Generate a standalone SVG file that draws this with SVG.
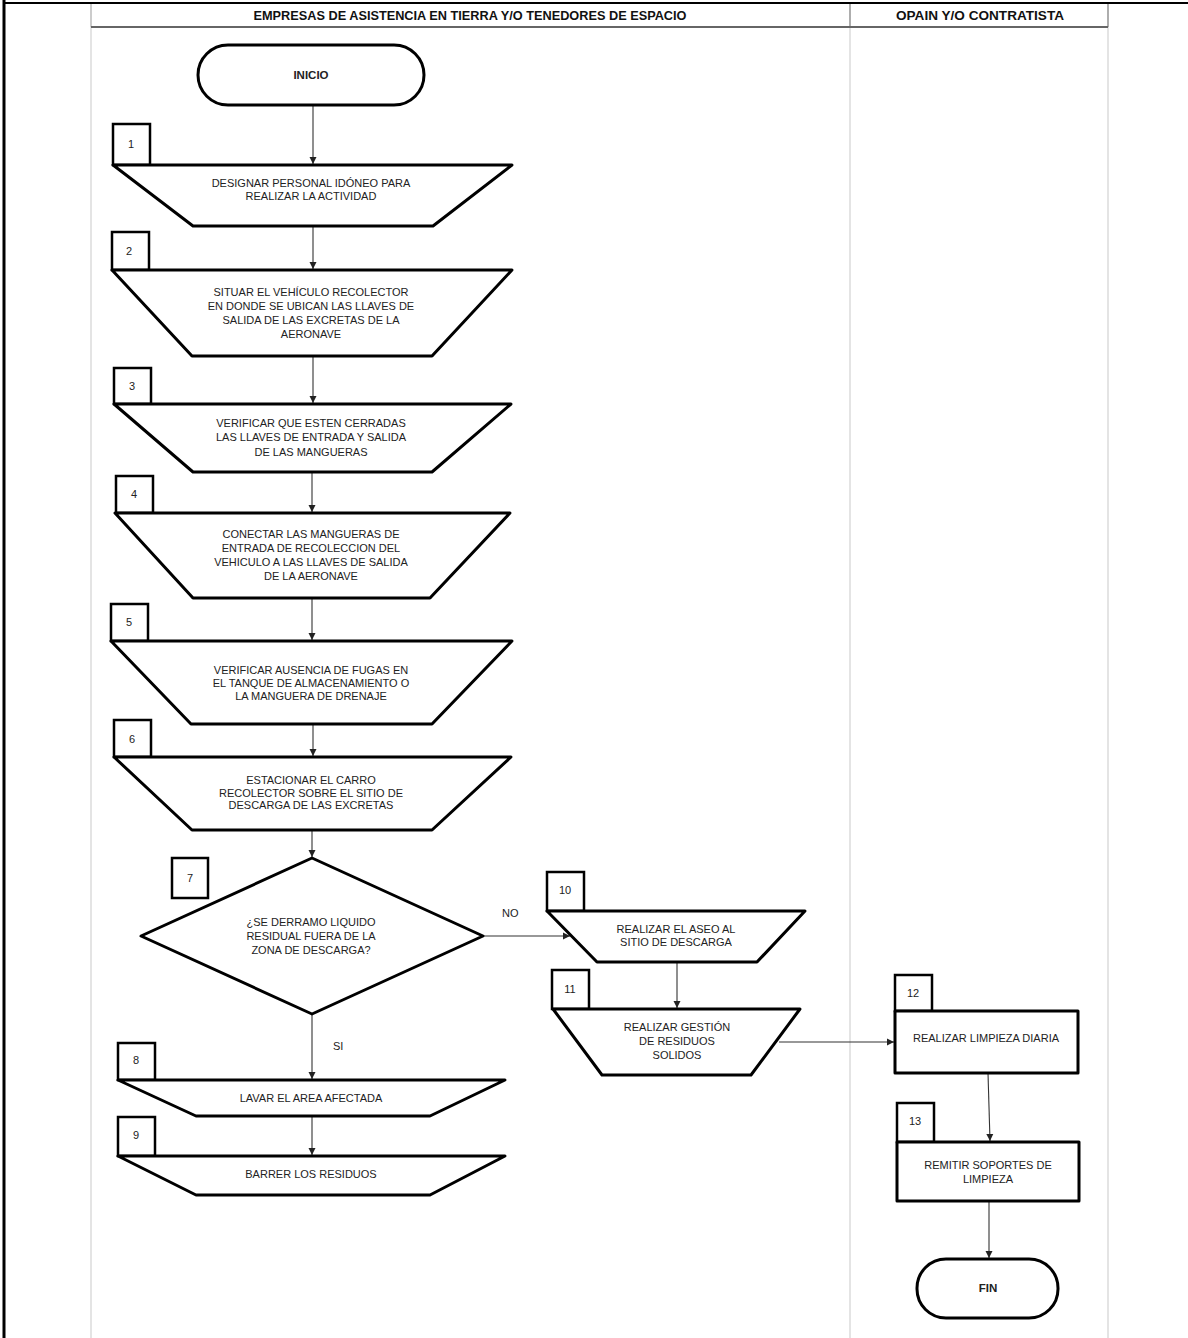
<svg xmlns="http://www.w3.org/2000/svg" width="1188" height="1338" viewBox="0 0 1188 1338">
<defs>
<marker id="ah" markerWidth="8" markerHeight="8" refX="7" refY="4" orient="auto" markerUnits="userSpaceOnUse">
<path d="M0,0.5 L7,4 L0,7.5 Z" fill="#222"/>
</marker>
<style>
.hdr{font-family:"Liberation Sans",Arial,sans-serif;font-weight:bold;font-size:12.5px;fill:#111;text-anchor:middle}
.t{font-family:"Liberation Sans",Arial,sans-serif;font-size:11px;fill:#222;text-anchor:middle}
.tb{font-family:"Liberation Sans",Arial,sans-serif;font-size:11.5px;font-weight:bold;fill:#222;text-anchor:middle}
.n{font-family:"Liberation Sans",Arial,sans-serif;font-size:11px;fill:#222;text-anchor:middle}
.shp{fill:#fff;stroke:#000;stroke-width:3;stroke-linejoin:round}
.nb{fill:#fff;stroke:#000;stroke-width:2.5}
.lane{stroke:#d2d2d2;stroke-width:1.2;fill:none}
.cn{stroke:#333;stroke-width:1.1;fill:none;marker-end:url(#ah)}
.lbl{font-family:"Liberation Sans",Arial,sans-serif;font-size:11px;fill:#222}
</style>
</defs>
<rect x="0" y="0" width="1188" height="1338" fill="#fff"/>
<g id="frame">
<line x1="4" y1="0" x2="4" y2="1338" stroke="#000" stroke-width="3"/>
<line x1="4" y1="3" x2="1188" y2="3" stroke="#000" stroke-width="2"/>
<line class="lane" x1="91" y1="27" x2="91" y2="1338"/>
<line class="lane" x1="850" y1="27" x2="850" y2="1338"/>
<line class="lane" x1="1108" y1="27" x2="1108" y2="1338"/>
<line x1="91" y1="4" x2="91" y2="27" stroke="#999" stroke-width="1"/>
<line x1="850" y1="4" x2="850" y2="27" stroke="#777" stroke-width="1.2"/>
<line x1="1108" y1="4" x2="1108" y2="27" stroke="#777" stroke-width="1.2"/>
<line x1="91" y1="27" x2="1108" y2="27" stroke="#666" stroke-width="2"/>
<text class="hdr" x="470" y="20" textLength="433" lengthAdjust="spacingAndGlyphs">EMPRESAS DE ASISTENCIA EN TIERRA Y/O TENEDORES DE ESPACIO</text>
<text class="hdr" x="980" y="20" textLength="168" lengthAdjust="spacingAndGlyphs">OPAIN Y/O CONTRATISTA</text>
</g>
<g id="connectors">
<line class="cn" x1="313" y1="105" x2="313" y2="164"/>
<line class="cn" x1="313" y1="226" x2="313" y2="269"/>
<line class="cn" x1="313" y1="356" x2="313" y2="403"/>
<line class="cn" x1="312" y1="472" x2="312" y2="512"/>
<line class="cn" x1="312" y1="598" x2="312" y2="640"/>
<line class="cn" x1="313" y1="724" x2="313" y2="756"/>
<line class="cn" x1="312" y1="830" x2="312" y2="857"/>
<line class="cn" x1="483" y1="936" x2="570" y2="936"/>
<line class="cn" x1="312" y1="1014" x2="312" y2="1079"/>
<line class="cn" x1="312" y1="1116" x2="312" y2="1155"/>
<line class="cn" x1="677" y1="962" x2="677" y2="1008"/>
<line class="cn" x1="779" y1="1042" x2="894" y2="1042"/>
<line class="cn" x1="988" y1="1073" x2="990" y2="1141"/>
<line class="cn" x1="989" y1="1201" x2="989" y2="1258"/>
<text class="lbl" x="502" y="917">NO</text>
<text class="lbl" x="333" y="1050">SI</text>
</g>
<g id="inicio">
<rect class="shp" x="198" y="45" width="226" height="60" rx="30"/>
<text class="tb" x="311" y="79">INICIO</text>
</g>
<g id="n1">
<rect class="nb" x="113" y="124" width="37" height="41"/>
<text class="n" x="131" y="148">1</text>
<polygon class="shp" points="113,165 512,165 433,226 193,226"/>
<text class="t" x="311" y="187">DESIGNAR PERSONAL IDÓNEO PARA</text>
<text class="t" x="311" y="200">REALIZAR LA ACTIVIDAD</text>
</g>
<g id="n2">
<rect class="nb" x="112" y="232" width="37" height="38"/>
<text class="n" x="129" y="255">2</text>
<polygon class="shp" points="112,270 512,270 432,356 192,356"/>
<text class="t" x="311" y="296">SITUAR EL VEHÍCULO RECOLECTOR</text>
<text class="t" x="311" y="310">EN DONDE SE UBICAN LAS LLAVES DE</text>
<text class="t" x="311" y="324">SALIDA DE LAS EXCRETAS DE LA</text>
<text class="t" x="311" y="338">AERONAVE</text>
</g>
<g id="n3">
<rect class="nb" x="114" y="368" width="37" height="36"/>
<text class="n" x="132" y="390">3</text>
<polygon class="shp" points="114,404 511,404 432,472 193,472"/>
<text class="t" x="311" y="427">VERIFICAR QUE ESTEN CERRADAS</text>
<text class="t" x="311" y="441">LAS LLAVES DE ENTRADA Y SALIDA</text>
<text class="t" x="311" y="456">DE LAS MANGUERAS</text>
</g>
<g id="n4">
<rect class="nb" x="116" y="476" width="37" height="37"/>
<text class="n" x="134" y="498">4</text>
<polygon class="shp" points="115,513 510,513 430,598 193,598"/>
<text class="t" x="311" y="538">CONECTAR LAS MANGUERAS DE</text>
<text class="t" x="311" y="552">ENTRADA DE RECOLECCION DEL</text>
<text class="t" x="311" y="566">VEHICULO A LAS LLAVES DE SALIDA</text>
<text class="t" x="311" y="580">DE LA AERONAVE</text>
</g>
<g id="n5">
<rect class="nb" x="111" y="604" width="37" height="37"/>
<text class="n" x="129" y="626">5</text>
<polygon class="shp" points="111,641 512,641 432,724 191,724"/>
<text class="t" x="311" y="674">VERIFICAR AUSENCIA DE FUGAS EN</text>
<text class="t" x="311" y="687">EL TANQUE DE ALMACENAMIENTO O</text>
<text class="t" x="311" y="700">LA MANGUERA DE DRENAJE</text>
</g>
<g id="n6">
<rect class="nb" x="114" y="720" width="37" height="37"/>
<text class="n" x="132" y="743">6</text>
<polygon class="shp" points="114,757 511,757 432,830 192,830"/>
<text class="t" x="311" y="784">ESTACIONAR EL CARRO</text>
<text class="t" x="311" y="797">RECOLECTOR SOBRE EL SITIO DE</text>
<text class="t" x="311" y="809">DESCARGA DE LAS EXCRETAS</text>
</g>
<g id="n7">
<polygon class="shp" points="312,858 483,936 312,1014 141,936"/>
<rect class="nb" x="172" y="858" width="36" height="40"/>
<text class="n" x="190" y="882">7</text>
<text class="t" x="311" y="926">¿SE DERRAMO LIQUIDO</text>
<text class="t" x="311" y="940">RESIDUAL FUERA DE LA</text>
<text class="t" x="311" y="954">ZONA DE DESCARGA?</text>
</g>
<g id="n8">
<rect class="nb" x="118" y="1043" width="37" height="37"/>
<text class="n" x="136" y="1064">8</text>
<polygon class="shp" points="118,1080 505,1080 430,1116 196,1116"/>
<text class="t" x="311" y="1102">LAVAR EL AREA AFECTADA</text>
</g>
<g id="n9">
<rect class="nb" x="118" y="1117" width="37" height="39"/>
<text class="n" x="136" y="1139">9</text>
<polygon class="shp" points="118,1156 505,1156 430,1195 196,1195"/>
<text class="t" x="311" y="1178">BARRER LOS RESIDUOS</text>
</g>
<g id="n10">
<rect class="nb" x="547" y="872" width="37" height="39"/>
<text class="n" x="565" y="894">10</text>
<polygon class="shp" points="547,911 805,911 757,962 597,962"/>
<text class="t" x="676" y="933">REALIZAR EL ASEO AL</text>
<text class="t" x="676" y="946">SITIO DE DESCARGA</text>
</g>
<g id="n11">
<rect class="nb" x="552" y="970" width="37" height="39"/>
<text class="n" x="570" y="993">11</text>
<polygon class="shp" points="553,1009 800,1009 751,1075 602,1075"/>
<text class="t" x="677" y="1031">REALIZAR GESTIÓN</text>
<text class="t" x="677" y="1045">DE RESIDUOS</text>
<text class="t" x="677" y="1059">SOLIDOS</text>
</g>
<g id="n12">
<rect class="nb" x="895" y="975" width="37" height="36"/>
<text class="n" x="913" y="997">12</text>
<rect class="shp" x="895" y="1011" width="183" height="62"/>
<text class="t" x="986" y="1042">REALIZAR LIMPIEZA DIARIA</text>
</g>
<g id="n13">
<rect class="nb" x="897" y="1103" width="37" height="39"/>
<text class="n" x="915" y="1125">13</text>
<rect class="shp" x="897" y="1142" width="182" height="59"/>
<text class="t" x="988" y="1169">REMITIR SOPORTES DE</text>
<text class="t" x="988" y="1183">LIMPIEZA</text>
</g>
<g id="fin">
<rect class="shp" x="917" y="1259" width="141" height="59" rx="29"/>
<text class="tb" x="988" y="1292">FIN</text>
</g>
</svg>
